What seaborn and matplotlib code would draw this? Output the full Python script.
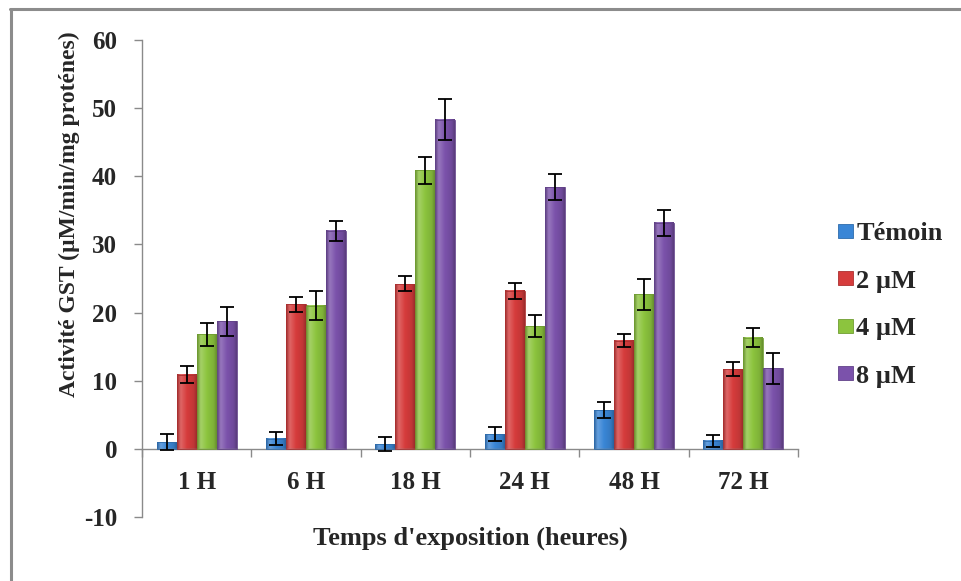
import numpy as np
import pandas as pd
import seaborn as sns
import matplotlib
matplotlib.use("Agg")
import matplotlib.pyplot as plt
from matplotlib.lines import Line2D
from matplotlib.patches import Patch
from matplotlib.colors import LinearSegmentedColormap, to_rgb

# Exposure times and treatment groups
times = ["1 H", "6 H", "18 H", "24 H", "48 H", "72 H"]
groups = ["Témoin", "2 µM", "4 µM", "8 µM"]

# Mean GST activity per group
temoin = [1.0, 1.5, 0.7, 2.2, 5.7, 1.2]
dose_2 = [10.9, 21.2, 24.2, 23.2, 15.9, 11.7]
dose_4 = [16.8, 21.0, 40.9, 18.0, 22.7, 16.3]
dose_8 = [18.7, 32.0, 48.3, 38.4, 33.2, 11.8]

# Standard errors
err_temoin = [1.2, 1.0, 1.0, 1.0, 1.2, 0.9]
err_2 = [1.2, 1.1, 1.1, 1.2, 1.0, 1.0]
err_4 = [1.7, 2.1, 2.0, 1.6, 2.3, 1.4]
err_8 = [2.1, 1.5, 3.0, 1.9, 1.9, 2.3]

colors = ["#3a86d6", "#d63c3c", "#8cc43e", "#7b52ab"]

means = [temoin, dose_2, dose_4, dose_8]
errs = [err_temoin, err_2, err_4, err_8]

df = pd.DataFrame({
    "Temps": np.tile(times, len(groups)),
    "Groupe": np.repeat(groups, len(times)),
    "Activite": np.concatenate(means),
})

sns.set_theme(style="white")
plt.rcParams["font.family"] = ["Liberation Serif", "DejaVu Serif"]
plt.rcParams["font.weight"] = "bold"
plt.rcParams["axes.unicode_minus"] = False

fig = plt.figure(figsize=(9.61, 5.81), dpi=100)
ax = fig.add_axes([142 / 961, 64 / 581, 656 / 961, 477 / 581])

sns.barplot(data=df, x="Temps", y="Activite", hue="Groupe", order=times,
            hue_order=groups, palette=colors, width=0.73, gap=0,
            saturation=1, errorbar=None, legend=False, ax=ax)


def shade_cmap(base):
    r, g, b = to_rgb(base)
    dark = (r * 0.72, g * 0.72, b * 0.72)
    light = tuple(c + (1 - c) * 0.22 for c in (r, g, b))
    mid = (r * 0.9, g * 0.9, b * 0.9)
    return LinearSegmentedColormap.from_list(
        "shade", [(0.0, dark), (0.18, light), (0.5, (r, g, b)),
                  (0.85, mid), (1.0, dark)])


grad = np.linspace(0, 1, 64).reshape(1, -1)
for cont, col, err in zip(ax.containers, colors, errs):
    cmap = shade_cmap(col)
    xs, ys = [], []
    for bar in cont:
        x0, w, h = bar.get_x(), bar.get_width(), bar.get_height()
        ax.imshow(grad, extent=[x0, x0 + w, 0, h], aspect="auto", cmap=cmap,
                  interpolation="bicubic", zorder=2)
        bar.set_facecolor("none")
        bar.set_edgecolor(tuple(c * 0.8 for c in to_rgb(col)))
        bar.set_linewidth(0.6)
        bar.set_zorder(3)
        xs.append(x0 + w / 2)
        ys.append(h)
    ax.errorbar(xs, ys, yerr=err, fmt="none", ecolor="black", elinewidth=1.3,
                capsize=5, capthick=1.3, zorder=4)

ax.set_xlim(-0.5, len(times) - 0.5)
ax.set_ylim(-10, 60)
ax.set_yticks(range(-10, 61, 10))

for side in ["top", "right"]:
    ax.spines[side].set_visible(False)
ax.spines["left"].set_color("#8a8a8a")
ax.spines["bottom"].set_color("#8a8a8a")
ax.spines["left"].set_linewidth(1.0)
ax.spines["bottom"].set_linewidth(1.0)
ax.spines["bottom"].set_position(("data", 0))

ax.set_xticks(np.arange(-0.5, len(times), 1.0), minor=True)
ax.tick_params(axis="x", which="major", length=0, pad=16, labelsize=18)
ax.tick_params(axis="x", which="minor", length=6, width=1.0, color="#8a8a8a",
               direction="out", bottom=True)
ax.tick_params(axis="y", which="major", length=6, width=1.0, color="#8a8a8a",
               direction="out", left=True, pad=12, labelsize=18)
for lab in ax.get_xticklabels() + ax.get_yticklabels():
    lab.set_fontweight("bold")

ax.set_xlabel("Temps d'exposition (heures)", fontsize=19, fontweight="bold")
ax.xaxis.set_label_coords(0.5, -0.021)
ax.set_ylabel("Activité GST (µM/min/mg proténes)", fontsize=17,
              fontweight="bold")
ax.yaxis.set_label_coords(-0.095, 0.635)
ax.grid(False)

handles = [Patch(facecolor=c, edgecolor=tuple(v * 0.8 for v in to_rgb(c)),
                 linewidth=0.6, label=g) for c, g in zip(colors, groups)]
fig.legend(handles=handles, loc="upper left",
           bbox_to_anchor=(838 / 961, 1 - 222 / 581), frameon=False,
           prop={"family": "Liberation Serif", "weight": "bold", "size": 19},
           handlelength=0.55, handleheight=0.45, handletextpad=0.15,
           labelspacing=0.93, borderpad=0, borderaxespad=0)

# Outer chart frame (top and left edges)
fig.add_artist(Line2D([10.5 / 961, 10.5 / 961], [0, 1 - 9 / 581],
                      transform=fig.transFigure, color="#8c8c8c", lw=2.2))
fig.add_artist(Line2D([9.5 / 961, 1], [1 - 9 / 581, 1 - 9 / 581],
                      transform=fig.transFigure, color="#8c8c8c", lw=2.2))

fig.savefig("out.png", dpi=100)
